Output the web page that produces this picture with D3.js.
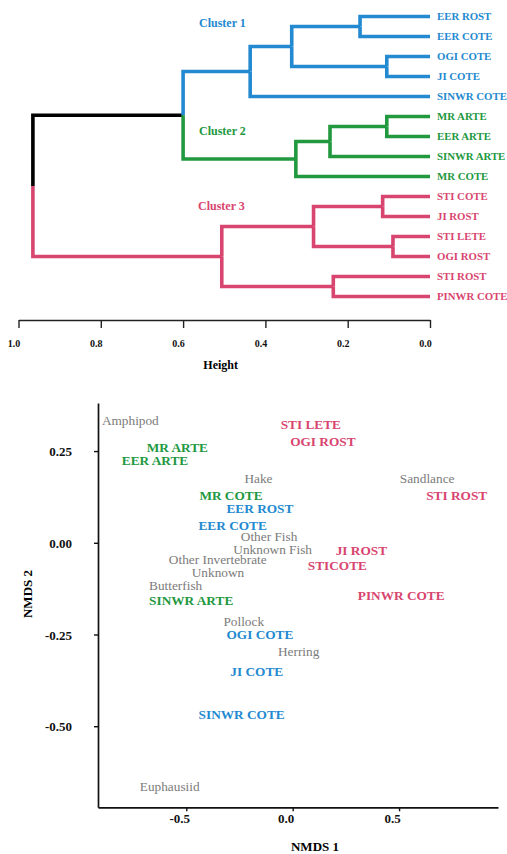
<!DOCTYPE html>
<html>
<head>
<meta charset="utf-8">
<script src="https://cdn.jsdelivr.net/npm/d3@7"></script>
<style>
html, body { margin: 0; padding: 0; background: #fff; }
svg { display: block; }
text { font-family: "Liberation Serif", "Times New Roman", serif; }
</style>
</head>
<body>
<svg id="chart" width="507" height="854"></svg>
<script>
// ---------- Dendrogram data ----------
const leafNames = ["EER ROST","EER COTE","OGI COTE","JI COTE","SINWR COTE",
  "MR ARTE","EER ARTE","SINWR ARTE","MR COTE",
  "STI COTE","JI ROST","STI LETE","OGI ROST","STI ROST","PINWR COTE"];
const leafCluster = [1,1,1,1,1,2,2,2,2,3,3,3,3,3,3];
// hclust-style merges: negative = leaf (1-based), positive = earlier merge (1-based)
const mergeLeft   = [-1, -3, 1, 3, -6, 5, 6, 4, -10, -12, 9, -14, 11, 8];
const mergeRight  = [-2, -4, 2, -5, -7, -8, -9, 7, -11, -13, 10, -15, 12, 13];
const mergeHeight = [0.17, 0.105, 0.336, 0.437, 0.105, 0.243, 0.326, 0.60, 0.115, 0.09, 0.283, 0.235, 0.506, 0.965];
const heightTicks = [1.0, 0.8, 0.6, 0.4, 0.2, 0.0];
const clusterLabels = ["Cluster 1", "Cluster 2", "Cluster 3"];

// ---------- NMDS data ----------
const nmdsSites = ["STI LETE","OGI ROST","MR ARTE","EER ARTE","MR COTE","EER ROST","EER COTE",
  "STI ROST","JI ROST","STICOTE","SINWR ARTE","PINWR COTE","OGI COTE","JI COTE","SINWR COTE"];
const nmdsSiteX = [0.085, 0.142, -0.542, -0.647, -0.29, -0.154, -0.282,
  0.771, 0.323, 0.21, -0.477, 0.51, -0.154, -0.169, -0.24];
const nmdsSiteY = [0.323, 0.277, 0.259, 0.223, 0.130, 0.094, 0.048,
  0.130, -0.020, -0.063, -0.156, -0.145, -0.25, -0.352, -0.467];
const nmdsSiteCluster = [3,3,2,2,2,1,1,3,3,3,2,3,1,1,1];
const preyNames = ["Amphipod","Hake","Sandlance","Other Fish","Unknown Fish","Other Invertebrate",
  "Unknown","Butterfish","Pollock","Herring","Euphausiid"];
const preyX = [-0.763, -0.161, 0.632, -0.111, -0.094, -0.352, -0.351, -0.55, -0.23, 0.028, -0.578];
const preyY = [0.332, 0.175, 0.176, 0.018, -0.017, -0.045, -0.082, -0.117, -0.214, -0.295, -0.663];
const nmdsXTicks = [-0.5, 0.0, 0.5];
const nmdsYTicks = [0.25, 0.0, -0.25, -0.5];

const clusterColor = {1: "#2389d0", 2: "#22983f", 3: "#d8456f", 0: "#000000"};
const preyColor = "#7b7b7b";

const svg = d3.select("#chart");

// ---------- Build dendrogram tree ----------
function buildNode(ref) {
  if (ref < 0) {
    const i = -ref - 1;
    return { name: leafNames[i], height: 0, cluster: leafCluster[i] };
  }
  const m = ref - 1;
  return { height: mergeHeight[m], children: [buildNode(mergeLeft[m]), buildNode(mergeRight[m])] };
}
const root = d3.hierarchy(buildNode(mergeHeight.length));

const dx = d3.scaleLinear().domain([1, 0]).range([18.5, 430]);
const dy = d3.scalePoint().domain(leafNames).range([16.5, 296.5]);

root.eachAfter(n => {
  if (!n.children) {
    n.py = dy(n.data.name);
    n.col = n.data.cluster;
  } else {
    n.py = (n.children[0].py + n.children[n.children.length - 1].py) / 2;
    const cs = n.children.map(c => c.col);
    n.col = cs.every(c => c === cs[0]) ? cs[0] : 0;
  }
  n.px = dx(n.data.height);
});

const dend = svg.append("g");
dend.selectAll("path.edge")
  .data(root.links())
  .join("path")
  .attr("class", "edge")
  .attr("fill", "none")
  .attr("stroke", d => clusterColor[d.target.col])
  .attr("stroke-width", 3.6)
  .attr("stroke-linejoin", "miter")
  .attr("d", d => `M${d.source.px},${d.source.py}V${d.target.py}H${d.target.px}`);

dend.selectAll("text.leaf")
  .data(root.leaves())
  .join("text")
  .attr("class", "leaf")
  .attr("x", 437)
  .attr("y", d => d.py - 1)
  .attr("dominant-baseline", "central")
  .attr("font-size", 10.8)
  .attr("font-weight", "bold")
  .attr("fill", d => clusterColor[d.col])
  .text(d => d.data.name);

const clusterPos = [[199, 23], [199, 131], [198, 206]];
dend.selectAll("text.cl")
  .data(clusterLabels)
  .join("text")
  .attr("class", "cl")
  .attr("x", (d, i) => clusterPos[i][0])
  .attr("y", (d, i) => clusterPos[i][1])
  .attr("dominant-baseline", "central")
  .attr("font-size", 12)
  .attr("font-weight", "bold")
  .attr("fill", (d, i) => clusterColor[i + 1])
  .text(d => d);

const hAxis = d3.axisBottom(dx).tickValues(heightTicks).tickFormat(d3.format(".1f"))
  .tickSize(8).tickSizeOuter(0);
const hg = dend.append("g").attr("transform", "translate(0,320)").call(hAxis);
hg.select(".domain").attr("stroke", "#222").attr("stroke-width", 1.4);
hg.selectAll(".tick line").attr("stroke", "#222").attr("stroke-width", 1.4);
hg.selectAll(".tick text")
  .attr("x", -5).attr("y", 23).attr("dy", null)
  .attr("dominant-baseline", "central")
  .attr("font-family", "Liberation Serif, serif")
  .attr("font-size", 10).attr("font-weight", "bold").attr("fill", "#111");

dend.append("text")
  .attr("x", 220.7).attr("y", 365)
  .attr("text-anchor", "middle").attr("dominant-baseline", "central")
  .attr("font-size", 12).attr("font-weight", "bold")
  .text("Height");

// ---------- NMDS plot ----------
const nx = d3.scaleLinear().domain([-0.915, 0.965]).range([98, 498]);
const ny = d3.scaleLinear().domain([-0.721, 0.381]).range([807.3, 403]);
const nm = svg.append("g");

const fmtMinus = f => v => f(v).replace("\u2212", "-");
const xAxis = d3.axisBottom(nx).tickValues(nmdsXTicks).tickFormat(fmtMinus(d3.format(".1f")))
  .tickSize(4).tickSizeOuter(0);
const yAxis = d3.axisLeft(ny).tickValues(nmdsYTicks).tickFormat(fmtMinus(d3.format(".2f")))
  .tickSize(4).tickPadding(22).tickSizeOuter(0);

const xg = nm.append("g").attr("transform", "translate(0,807.3)").call(xAxis);
const yg = nm.append("g").attr("transform", "translate(98,0)").call(yAxis);
[xg, yg].forEach(g => {
  g.select(".domain").attr("stroke", "#111").attr("stroke-width", 1.7);
  g.selectAll(".tick line").attr("stroke", "#111").attr("stroke-width", 1.4);
  g.selectAll(".tick text")
    .attr("font-family", "Liberation Serif, serif")
    .attr("font-size", 13).attr("font-weight", "bold").attr("fill", "#111");
});
xg.selectAll(".tick text").attr("x", -7).attr("y", 11).attr("dy", null).attr("dominant-baseline", "central");
yg.selectAll(".tick text").attr("dy", null).attr("dominant-baseline", "central");

nm.selectAll("text.prey")
  .data(preyNames)
  .join("text")
  .attr("class", "prey")
  .attr("x", (d, i) => nx(preyX[i]))
  .attr("y", (d, i) => ny(preyY[i]))
  .attr("text-anchor", "middle").attr("dominant-baseline", "central")
  .attr("font-size", 13.3)
  .attr("fill", preyColor)
  .text(d => d);

nm.selectAll("text.site")
  .data(nmdsSites)
  .join("text")
  .attr("class", "site")
  .attr("x", (d, i) => nx(nmdsSiteX[i]))
  .attr("y", (d, i) => ny(nmdsSiteY[i]))
  .attr("text-anchor", "middle").attr("dominant-baseline", "central")
  .attr("font-size", 13.3).attr("font-weight", "bold")
  .attr("fill", (d, i) => clusterColor[nmdsSiteCluster[i]])
  .text(d => d);

nm.append("text")
  .attr("x", 315).attr("y", 846.7)
  .attr("text-anchor", "middle").attr("dominant-baseline", "central")
  .attr("font-size", 13).attr("font-weight", "bold")
  .text("NMDS 1");

nm.append("text")
  .attr("transform", "translate(27,594) rotate(-90)")
  .attr("text-anchor", "middle").attr("dominant-baseline", "central")
  .attr("font-size", 13).attr("font-weight", "bold")
  .text("NMDS 2");
</script>
</body>
</html>
